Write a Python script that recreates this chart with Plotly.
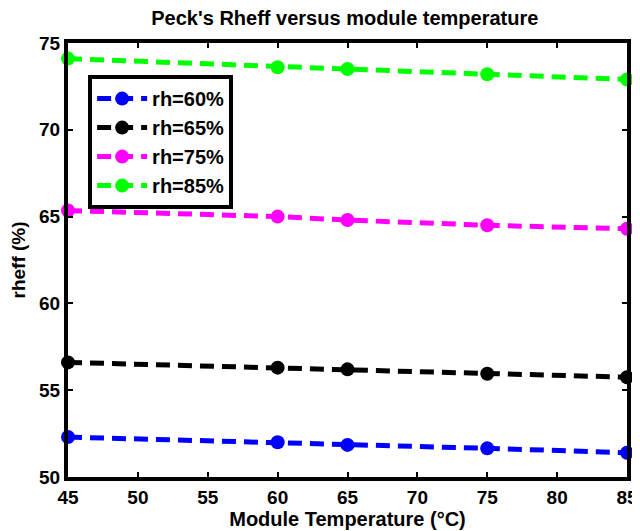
import plotly.graph_objects as go

temps = [45, 60, 65, 75, 85]
rh60 = [52.3, 52.0, 51.85, 51.65, 51.4]
rh65 = [56.6, 56.3, 56.2, 55.95, 55.75]
rh75 = [65.35, 65.0, 64.8, 64.5, 64.3]
rh85 = [74.1, 73.6, 73.5, 73.2, 72.9]
names = ["rh=60%", "rh=65%", "rh=75%", "rh=85%"]
colors = ["#0000ff", "#000000", "#ff00ff", "#00ff00"]

fig = go.Figure()
for name, vals, c in zip(names, [rh60, rh65, rh75, rh85], colors):
    fig.add_trace(go.Scatter(x=temps, y=vals, name=name, mode="lines+markers",
                             line=dict(color=c, width=5, dash="14px,8px"),
                             marker=dict(color=c, size=14),
                             cliponaxis=False))

font = "Liberation Sans, Arial, sans-serif"
axis_common = dict(showgrid=False, zeroline=False, showline=True, linecolor="black",
                   linewidth=4, mirror="allticks", ticks="inside", ticklen=5,
                   tickwidth=2, tickcolor="black", automargin=False,
                   tickfont=dict(family=font, size=19, color="black", weight="bold"))
# page body has an 8px margin; figure sized so the plot lands where the reference has it
fig.update_layout(
    width=632, height=523,
    paper_bgcolor="white", plot_bgcolor="white",
    margin=dict(l=60, r=13, t=35, b=54, autoexpand=False),
    title=dict(text="<b>Peck's Rheff versus module temperature</b>", x=0.533, xanchor="center",
               y=0.981, yanchor="middle",
               font=dict(family=font, size=20, color="black")),
    xaxis=dict(range=[45, 85], dtick=5, tick0=45,
               title=dict(text="<b>Module Temperature (°C)</b>", standoff=1,
                          font=dict(family=font, size=20, color="black")),
               **axis_common),
    yaxis=dict(range=[50, 75], dtick=5, tick0=50,
               title=dict(text="<b>rheff (%)</b>", standoff=10,
                          font=dict(family=font, size=19, color="black")),
               **axis_common),
    legend=dict(x=0.036, y=0.926, xanchor="left", yanchor="top",
                bgcolor="white", bordercolor="black", borderwidth=4,
                font=dict(family=font, size=20, color="black", weight="bold"),
                itemwidth=50, tracegroupgap=0),
    showlegend=True,
)
fig.write_html("out.html")
